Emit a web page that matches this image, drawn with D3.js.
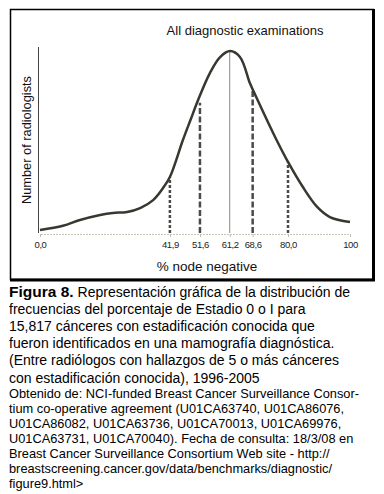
<!DOCTYPE html>
<html lang="es">
<head>
<meta charset="UTF-8">
<title>Figura 8</title>
<script src="https://d3js.org/d3.v7.min.js"></script>
<style>
  body { margin: 0; background: #fff; }
  text { font-family: "Liberation Sans", Arial, sans-serif; }
</style>
</head>
<body>
<svg width="384" height="494"></svg>
<script>
// % node negative vs relative number of radiologists
const pctNodeNeg = [0, 7.4, 12.9, 19.4, 23.5, 28.1, 32.3, 36.5, 39.7, 41.9, 46.1, 48.6, 51.0, 54.8, 58.1, 61.3, 64.5, 67.7, 68.7, 73.2, 76.8, 80.0, 84.8, 89.4, 93.5, 100];
const numRadiologists = [1.6, 3.9, 7.0, 9.7, 10.8, 11.3, 13.4, 17.7, 24.2, 30.1, 50.0, 61.0, 71.5, 86.0, 94.6, 97.8, 94.6, 80.6, 76.9, 60.8, 48.4, 38.2, 24.7, 14.0, 8.6, 5.9];

const markers = [41.9, 51.6, 61.2, 68.6, 80.0];
const markerHeights = [30, 70, 97.8, 77, 38];
const markerStyle = ["short", "long", "solid", "long", "short"];
const tickValues = [0, 41.9, 51.6, 61.2, 68.6, 80.0, 100];
const tickLabels = ["0,0", "41,9", "51,6", "61,2", "68,6", "80,0", "100"];

const captionLines = [
  "Representación gráfica de la distribución de",
  "frecuencias del porcentaje de Estadio 0 o I para",
  "15,817 cánceres con estadificación conocida que",
  "fueron identificados en una mamografía diagnóstica.",
  "(Entre radiólogos con hallazgos de 5 o más cánceres",
  "con estadificación conocida), 1996-2005"
];
const sourceLines = [
  "Obtenido de: NCI-funded Breast Cancer Surveillance Consor-",
  "tium co-operative agreement (U01CA63740, U01CA86076,",
  "U01CA86082, U01CA63736, U01CA70013, U01CA69976,",
  "U01CA63731, U01CA70040). Fecha de consulta: 18/3/08 en",
  "Breast Cancer Surveillance Consortium Web site - http://",
  "breastscreening.cancer.gov/data/benchmarks/diagnostic/",
  "figure9.html>"
];

const svg = d3.select("svg");

// frame
svg.append("rect").attr("x", 10.5).attr("y", 9.5).attr("width", 363).attr("height", 270)
  .attr("fill", "none").attr("stroke", "#000").attr("stroke-width", 1.5);
svg.append("line").attr("x1", 10).attr("x2", 375).attr("y1", 280).attr("y2", 280)
  .attr("stroke", "#000").attr("stroke-width", 3);
svg.append("line").attr("x1", 373.5).attr("x2", 373.5).attr("y1", 9).attr("y2", 281)
  .attr("stroke", "#000").attr("stroke-width", 3);

const x = d3.scaleLinear().domain([0, 100]).range([40, 350]);
const y = d3.scaleLinear().domain([0, 100]).range([233, 47]);

// y axis (bare line)
svg.append("line").attr("x1", 38.5).attr("x2", 38.5).attr("y1", y(100)).attr("y2", y(0))
  .attr("stroke", "#444").attr("stroke-width", 1);

// x axis
const xAxis = d3.axisBottom(x).tickValues(tickValues).tickSize(3)
  .tickFormat((d, i) => tickLabels[i]);
const gx = svg.append("g").attr("transform", `translate(0,${y(0) + 1})`).call(xAxis);
gx.attr("font-size", 9.5).attr("font-family", null);
gx.select(".domain").attr("stroke", "#c8c8b8").attr("stroke-dasharray", "2,1");
gx.selectAll(".tick line").attr("stroke", "#bbb");
gx.selectAll(".tick text").attr("fill", "#222").attr("dy", "0.85em")
  .style("letter-spacing", "-0.4px");

// markers
const dash = { short: "3,2", long: "6,2.5", solid: null };
svg.selectAll(".marker").data(markers).enter().append("line")
  .attr("class", "marker")
  .attr("x1", d => x(d)).attr("x2", d => x(d))
  .attr("y1", y(0)).attr("y2", (d, i) => y(markerHeights[i]))
  .attr("stroke", (d, i) => markerStyle[i] === "solid" ? "#8a8a80" : "#4a4a4a")
  .attr("stroke-width", (d, i) => markerStyle[i] === "solid" ? 1 : 2.5)
  .attr("stroke-dasharray", (d, i) => dash[markerStyle[i]]);

// density curve
const line = d3.line().x(d => x(d[0])).y(d => y(d[1])).curve(d3.curveCatmullRom.alpha(0.5));
svg.append("path").datum(pctNodeNeg.map((v, i) => [v, numRadiologists[i]]))
  .attr("d", line).attr("fill", "none").attr("stroke", "#383830").attr("stroke-width", 2.5);

// titles
svg.append("text").attr("x", 245).attr("y", 35).attr("text-anchor", "middle")
  .attr("font-size", 13).attr("fill", "#111").text("All diagnostic examinations");
svg.append("text").attr("transform", "translate(31,140) rotate(-90)").attr("text-anchor", "middle")
  .attr("font-size", 12.8).attr("fill", "#111").text("Number of radiologists");
svg.append("text").attr("x", 207).attr("y", 271).attr("text-anchor", "middle")
  .attr("font-size", 13.5).attr("fill", "#111").text("% node negative");

// caption
const cap = svg.append("g").attr("font-size", 14).attr("fill", "#000");
cap.selectAll("text").data(captionLines).enter().append("text")
  .attr("x", 9).attr("y", (d, i) => 296.5 + i * 17.2)
  .each(function (d, i) {
    const t = d3.select(this);
    if (i === 0) {
      t.append("tspan").attr("font-weight", "bold").attr("font-size", 15.5).text("Figura 8.");
      t.append("tspan").attr("dx", 4).text(d);
    } else {
      t.text(d);
    }
  });

svg.append("g").attr("font-size", 12.8).attr("fill", "#000")
  .selectAll("text").data(sourceLines).enter().append("text")
  .attr("x", 9).attr("y", (d, i) => 397.5 + i * 15)
  .text(d => d);
</script>
</body>
</html>
